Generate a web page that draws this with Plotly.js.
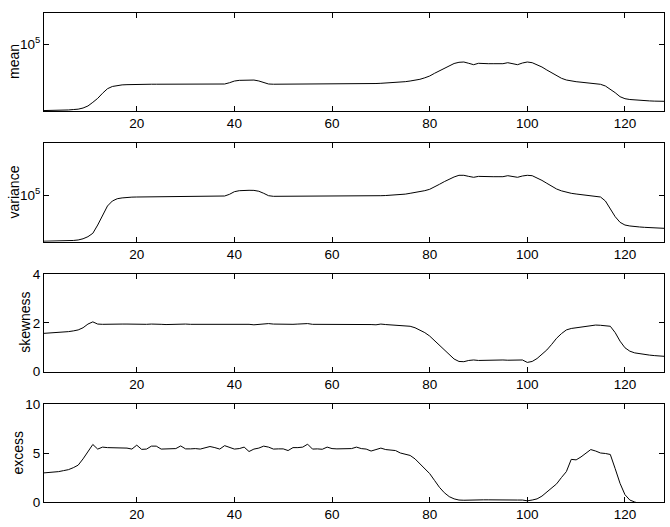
<!DOCTYPE html>
<html>
<head>
<meta charset="utf-8">
<script src="https://cdn.plot.ly/plotly-3.0.1.min.js"></script>
<style>html,body{margin:0;padding:0;background:#fff;}#chart{width:670px;height:527px;}</style>
</head>
<body>
<div id="chart"></div>
<script>
// x positions 1..128
var xs = [];
for (var i = 1; i <= 128; i++) xs.push(i);

var meanVals = [
21600,21600,21650,21700,21800,21900,22100,22300,22900,24000,
26100,28600,32200,35700,37600,38600,39000,39200,39400,39500,
39550,39600,39600,39600,39650,39650,39700,39700,39700,39700,
39700,39750,39750,39750,39800,39800,39800,39800,41000,42600,
43300,43600,43700,43600,42700,41000,39800,39600,39600,39600,
39600,39600,39600,39650,39650,39650,39700,39700,39700,39750,
39750,39800,39800,39850,39900,39950,40000,40100,40250,40460,
40700,40900,41100,41400,42000,42660,43350,44360,45900,47860,
50930,54080,57540,61240,63830,65610,66070,64120,62090,64120,
63530,63530,63530,63530,63530,65010,63530,62090,64560,66070,
65010,62090,58880,54950,51290,47860,45400,43650,42660,41980,
41500,41020,40740,40460,39540,38020,35480,32580,29720,28380,
27860,27540,27290,27100,26980,26850,26790,26730];

var varianceVals = [
34500,34500,34550,34600,34700,34900,35100,35500,36500,38300,
41400,50100,63100,77600,87100,91800,93500,94800,95200,95500,
95600,95700,95800,95800,95900,95900,96000,96000,96100,96100,
96200,96300,96400,96500,96600,96800,97000,97700,101600,107900,
110400,111400,111400,111200,109000,104000,98400,97000,97000,97000,
97000,97000,97000,97000,97000,97000,97000,97100,97100,97100,
97200,97200,97300,97400,97500,97600,97700,97900,98100,98400,
98800,99300,100000,100700,102000,104000,105800,107900,110500,114000,
120000,127900,136000,144500,151500,157400,157400,153500,150300,153500,
152400,152400,152400,152400,152400,156000,152400,150300,154900,157400,
156000,149000,140000,130900,122000,114800,110000,106400,104000,102300,
101000,100700,99500,98400,95500,87100,73600,60700,53300,50100,
49000,48200,47900,47500,47200,46900,46700,46450];

var skewnessVals = [
1.57,1.58,1.59,1.60,1.62,1.64,1.67,1.71,1.80,1.95,
2.04,1.95,1.94,1.95,1.95,1.94,1.95,1.95,1.94,1.96,
1.93,1.94,1.95,1.96,1.94,1.93,1.94,1.95,1.96,1.95,
1.94,1.94,1.95,1.95,1.96,1.95,1.94,1.95,1.95,1.94,
1.95,1.96,1.94,1.92,1.94,1.95,1.97,1.95,1.94,1.94,
1.93,1.94,1.95,1.96,1.97,1.94,1.94,1.95,1.95,1.94,
1.95,1.95,1.95,1.96,1.95,1.94,1.93,1.93,1.92,1.95,
1.93,1.92,1.91,1.90,1.88,1.86,1.80,1.71,1.60,1.46,
1.27,1.07,0.86,0.68,0.52,0.42,0.41,0.46,0.48,0.46,
0.47,0.47,0.48,0.47,0.48,0.47,0.48,0.46,0.48,0.38,
0.42,0.54,0.70,0.89,1.12,1.37,1.56,1.71,1.77,1.80,
1.83,1.88,1.91,1.91,1.90,1.89,1.86,1.60,1.25,0.98,
0.84,0.77,0.73,0.71,0.68,0.66,0.64,0.63];

var excessVals = [
2.97,3.00,3.05,3.10,3.20,3.30,3.50,3.76,4.40,5.20,
5.87,5.40,5.60,5.55,5.55,5.50,5.50,5.50,5.40,5.80,
5.37,5.40,5.70,5.70,5.40,5.40,5.42,5.45,5.72,5.42,
5.42,5.45,5.40,5.55,5.66,5.55,5.40,5.75,5.55,5.40,
5.45,5.60,5.15,5.40,5.50,5.70,5.60,5.40,5.42,5.42,
5.25,5.55,5.55,5.60,5.90,5.40,5.42,5.38,5.60,5.45,
5.42,5.42,5.40,5.45,5.60,5.45,5.40,5.20,5.35,5.50,
5.35,5.30,5.25,5.00,4.90,4.75,4.40,3.90,3.40,2.90,
2.20,1.50,0.95,0.55,0.32,0.20,0.18,0.20,0.25,0.22,
0.22,0.22,0.23,0.22,0.24,0.20,0.22,0.20,0.20,0.12,
0.20,0.32,0.60,1.00,1.40,1.85,2.50,3.10,4.35,4.30,
4.60,5.00,5.35,5.20,5.00,4.95,4.85,3.40,1.90,0.75,
0.20,0.00,-0.20,-0.30,-0.35,-0.40,-0.42,-0.45];

var xTicks = [20, 40, 60, 80, 100, 120];
var yLabels = ['mean', 'variance', 'skewness', 'excess'];

var H = 527, L = 44, PW = 620;
function dom(top, bottom) { return [1 - bottom / H, 1 - top / H]; }
var domains = [dom(13, 111), dom(143.3, 241.7), dom(274, 371.7), dom(404, 502)];
var titleX = [14, 14, 25, 17.5];

var lineStyle = {color: '#000', width: 1};
var traces = [
  {x: xs, y: meanVals, xaxis: 'x', yaxis: 'y', type: 'scatter', mode: 'lines', line: lineStyle},
  {x: xs, y: varianceVals, xaxis: 'x2', yaxis: 'y2', type: 'scatter', mode: 'lines', line: lineStyle},
  {x: xs, y: skewnessVals, xaxis: 'x3', yaxis: 'y3', type: 'scatter', mode: 'lines', line: lineStyle},
  {x: xs, y: excessVals, xaxis: 'x4', yaxis: 'y4', type: 'scatter', mode: 'lines', line: lineStyle}
];

function xax(anchor) {
  return {
    anchor: anchor, domain: [0, 1], range: [1, 128],
    tickvals: xTicks, ticks: 'inside', ticklen: 5, tickcolor: '#000',
    showline: true, linecolor: '#000', linewidth: 1, mirror: 'ticks',
    showgrid: false, zeroline: false, automargin: false,
    tickfont: {size: 13.5, color: '#000'}
  };
}
function yax(anchor, d, extra) {
  var a = {
    anchor: anchor, domain: d,
    ticks: 'inside', ticklen: 5, tickcolor: '#000',
    showline: true, linecolor: '#000', linewidth: 1, mirror: 'ticks',
    showgrid: false, zeroline: false, automargin: false,
    tickfont: {size: 13.5, color: '#000'}
  };
  for (var k in extra) a[k] = extra[k];
  return a;
}

var annotations = yLabels.map(function (t, i) {
  return {
    text: t, textangle: -90, showarrow: false,
    xref: 'paper', yref: 'paper',
    x: (titleX[i] - L) / PW, y: (domains[i][0] + domains[i][1]) / 2,
    xanchor: 'center', yanchor: 'middle',
    font: {size: 14, color: '#000'}
  };
});

var layout = {
  width: 670, height: 527,
  margin: {l: L, r: 6, t: 0, b: 0},
  paper_bgcolor: '#fff', plot_bgcolor: '#fff',
  font: {family: '"Liberation Sans", Arial, sans-serif', size: 13.5, color: '#000'},
  showlegend: false,
  xaxis: xax('y'),
  xaxis2: xax('y2'),
  xaxis3: xax('y3'),
  xaxis4: xax('y4'),
  yaxis: yax('x', domains[0], {type: 'log', range: [4.33, 5.31], tickvals: [100000], ticktext: ['10<sup>5</sup>']}),
  yaxis2: yax('x2', domains[1], {type: 'log', range: [4.533, 5.517], tickvals: [100000], ticktext: ['10<sup>5</sup>']}),
  yaxis3: yax('x3', domains[2], {range: [0, 4], tickvals: [0, 2, 4]}),
  yaxis4: yax('x4', domains[3], {range: [0, 10], tickvals: [0, 5, 10]}),
  annotations: annotations
};

Plotly.newPlot('chart', traces, layout, {staticPlot: true, displayModeBar: false});
</script>
</body>
</html>
